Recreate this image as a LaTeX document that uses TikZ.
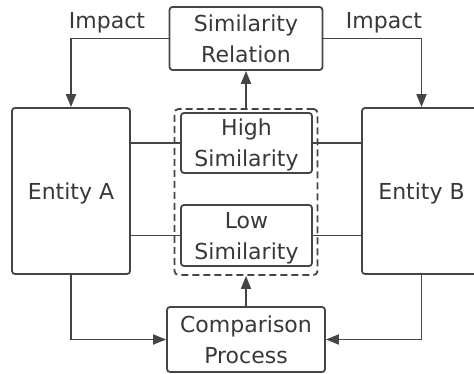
\documentclass[tikz,border=0pt]{standalone}
\usepackage{fontspec}
\setmainfont{DejaVu Sans}
\usetikzlibrary{arrows.meta}
\definecolor{ln}{HTML}{454545}
\definecolor{tx}{HTML}{383838}
\tikzset{
  box/.style={draw=ln, line width=1.8pt, rounded corners=3pt, align=center,
    font=\fontsize{22pt}{31pt}\selectfont, text=tx, text depth=0pt, inner sep=0pt},
  dbox/.style={draw=ln, line width=1.8pt, rounded corners=4pt, dash pattern=on 7pt off 4pt},
  conn/.style={draw=ln, line width=1.8pt},
  arr/.style={conn, -{Triangle[length=13pt,width=10pt]}},
  lbl/.style={font=\fontsize{22pt}{31pt}\selectfont, text=tx, inner sep=0pt, anchor=base}
}
\begin{document}
\begin{tikzpicture}[x=1pt,y=-1pt]
\useasboundingbox (0,0) rectangle (474,374);
\clip (0,0) rectangle (474,374);
\node[box, minimum width=153pt, minimum height=63pt] (sr) at (246,38.5) {Similarity\\Relation};
\node[box, minimum width=118pt, minimum height=166pt] (ea) at (71,191) {Entity A};
\node[box, minimum width=119pt, minimum height=166pt] (eb) at (421.5,191) {Entity B};
\node[dbox, minimum width=143pt, minimum height=166pt, inner sep=0pt] (grp) at (246,192) {};
\node[box, minimum width=131pt, minimum height=60pt] (hs) at (246.5,143) {High\\Similarity};
\node[box, minimum width=131pt, minimum height=61pt] (ls) at (246.5,235.5) {Low\\Similarity};
\node[box, minimum width=158pt, minimum height=65pt] (cp) at (246,339.5) {Comparison\\Process};
\node[lbl] (impa) at (107,28.5) {Impact};
\node[lbl] (impb) at (384,28.5) {Impact};
% impact arrows
\draw[arr] (sr.west) -| (ea.north);
\draw[arr] (sr.east) -| (eb.north);
% group to relation
\draw[arr] (grp.north) -- (sr.south);
\draw[arr] (cp.north) -- (grp.south);
% entity links
\draw[conn] (ea.east |- hs.west) -- (hs.west);
\draw[conn] (ea.east |- ls.west) -- (ls.west);
\draw[conn] (eb.west |- hs.east) -- (hs.east);
\draw[conn] (eb.west |- ls.east) -- (ls.east);
% entities to comparison
\draw[arr] (ea.south) |- (cp.west);
\draw[arr] (eb.south) |- (cp.east);
\end{tikzpicture}
\end{document}
